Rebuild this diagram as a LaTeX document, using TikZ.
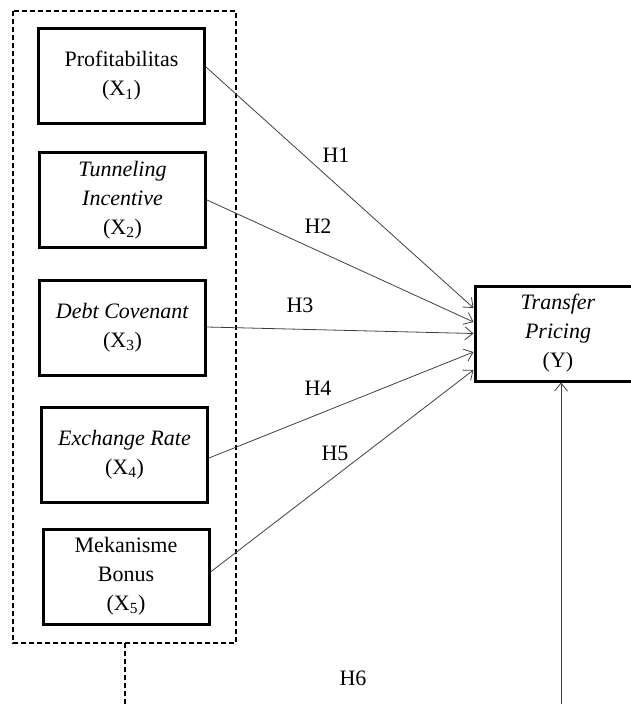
\documentclass[tikz,border=0pt]{standalone}
\usepackage{fontspec}
\setmainfont{Liberation Serif}
\usetikzlibrary{arrows.meta}
\tikzset{
  varbox/.style={draw, line width=3pt, minimum width=166pt, minimum height=95pt,
    align=center, inner sep=0pt},
  hlabel/.style={inner sep=0pt},
  dashbox/.style={line width=1.4pt, dash pattern=on 5pt off 3pt},
  effect/.style={line width=0.8pt, black!75, -{Straight Barb[length=8pt,width=13pt]}}
}
\begin{document}
\begin{tikzpicture}[x=1pt,y=-1pt,font=\fontsize{22}{29}\selectfont]
    \useasboundingbox (0,0) rectangle (630,704);
    \draw[dashbox] (13,11) rectangle (236,643);
    \node[varbox] (x1) at (121.5,76) {Profitabilitas\\(X\textsubscript{1})};
    \node[varbox] (x2) at (122.5,200) {\textit{Tunneling}\\\textit{Incentive}\\(X\textsubscript{2})};
    \node[varbox] (x3) at (122.5,328) {\textit{Debt Covenant}\\(X\textsubscript{3})};
    \node[varbox] (x4) at (124.5,455) {\textit{Exchange Rate}\\(X\textsubscript{4})};
    \node[varbox] (x5) at (126,576.5) {Mekanisme\\Bonus\\(X\textsubscript{5})};
    \node[varbox] (y) at (558,333.5) {\textit{Transfer}\\\textit{Pricing}\\(Y)};
    \coordinate (dbot) at (125,710);
    \coordinate (ybot) at (561,710);
    \draw[dashbox] (125,643)--(dbot);
    \foreach \v/\a/\b in {x1/9/25.5, x2/0/11.5, x3/1/0, x4/-3/-18.5, x5/4.5/-36.5}
    \draw[effect] ([yshift=\a pt]\v.east)--([yshift=\b pt]y.west);
    \draw[effect] (ybot)--(y.south -| ybot);
    \node[hlabel] (h1) at (336,155) {H1};
    \node[hlabel] (h2) at (318,226) {H2};
    \node[hlabel] (h3) at (300,305) {H3};
    \node[hlabel] (h4) at (318,388) {H4};
    \node[hlabel] (h5) at (335,453) {H5};
    \node[hlabel] (h6) at (353,678) {H6};
  \end{tikzpicture}
\end{document}
